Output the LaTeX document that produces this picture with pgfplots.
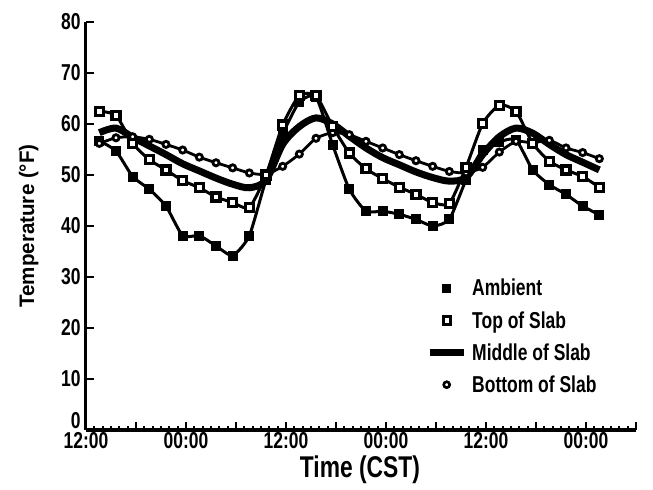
\documentclass[border=0pt]{standalone}
\usepackage{fontspec}
\setmainfont{Liberation Sans}[FakeStretch=0.76]
\newfontfamily\ylabfont{Liberation Sans}[FakeStretch=0.98]
\usepackage{pgfplots}
\usepackage{pgfplotstable}
\pgfplotsset{compat=1.18}
\pgfplotsset{
  markleg/.style={legend image code/.code={\draw[##1] plot coordinates {(17bp,0bp)};}},
  lineleg/.style={legend image code/.code={\draw[##1] (0bp,0bp) -- (34bp,0bp);}},
}

\pgfplotstableread{
x    amb   top   mid   bot
1.6  56.7  62.5  58.3  56.2
3.6  54.7  61.7  59.2  57.3
5.6  49.7  56.2  57.4  57.5
7.6  47.2  53.0  55.7  57.0
9.6  43.9  51.0  54.0  56.0
11.6 38.1  48.9  52.2  54.9
13.6 38.1  47.5  50.8  53.5
15.6 36.1  45.7  49.4  52.4
17.6 34.2  44.6  48.2  51.4
19.6 38.1  43.6  47.5  50.4
21.6 49.1  50.0  49.0  50.1
23.6 58.0  59.8  56.0  51.7
25.6 64.3  65.6  59.5  54.1
27.6 65.3  65.6  61.2  57.2
29.6 55.9  59.5  60.0  58.3
31.6 47.2  54.3  57.6  57.9
33.6 42.9  51.2  55.3  56.6
35.6 42.9  49.3  53.4  55.3
37.6 42.3  47.6  52.0  54.0
39.6 41.3  46.2  50.6  52.8
41.6 40.0  44.6  49.5  51.7
43.6 41.3  44.4  48.8  50.7
45.6 49.0  51.5  49.5  50.4
47.6 55.0  60.1  54.0  51.5
49.6 56.5  63.7  57.5  54.5
51.6 56.9  62.5  59.2  56.6
53.6 51.0  56.2  58.2  56.3
55.6 48.1  52.7  56.0  56.8
57.6 46.2  51.0  54.0  55.3
59.6 43.9  49.7  52.5  54.4
61.6 42.2  47.6  51.0  53.2
}\datatable

\begin{document}
\begin{tikzpicture}
\path[use as bounding box] (-86bp,-60bp) rectangle (567bp,430bp);
\begin{axis}[
  at={(0,0)}, anchor=south west,
  scale only axis, width=550bp, height=408bp,
  xmin=0, xmax=66, ymin=0, ymax=80,
  axis lines=left,
  axis line style={-, line width=3bp, black},
  tick align=inside,
  xtick={0,6,...,66},
  xticklabels={12:00,,00:00,,12:00,,00:00,,12:00,,00:00,},
  minor x tick num=5,
  ytick={10,20,...,80},
  extra y ticks={0},
  extra y tick style={yticklabel style={yshift=9bp, inner ysep=0pt}},
  major tick length=8bp, minor tick length=4bp,
  every tick/.style={line width=2.2bp, black},
  /pgf/number format/assume math mode=true,
  tick label style={font=\bfseries\fontsize{23bp}{25bp}\selectfont},
  yticklabel style={xshift=-2bp},
  xticklabel style={yshift=1bp},
  xlabel={Time (CST)},
  ylabel={Temperature (°F)},
  xlabel style={font=\bfseries\fontsize{30bp}{32bp}\selectfont, at={(axis description cs:0.498,-0.098)}, anchor=center},
  ylabel style={font=\ylabfont\bfseries\fontsize{21bp}{23bp}\selectfont, at={(axis description cs:-0.104,0.5)}, anchor=center},
  clip=false,
  legend style={draw=none, fill=none, at={(axis cs:40.8,30.0)}, anchor=north west,
    font=\bfseries\fontsize{23bp}{25bp}\selectfont, row sep=10bp, inner sep=0pt,
    nodes={inner xsep=5bp}},
  legend cell align=left,
]
\addplot[black, line width=7bp, smooth, forget plot] table[x=x, y=mid] {\datatable};
\addplot[black, line width=3bp, smooth, tension=0.35, mark=square*, mark size=4.5bp,
  mark options={fill=black, line width=1bp, solid}, forget plot] table[x=x, y=amb] {\datatable};
\addplot[black, line width=2.8bp, smooth, tension=0.35, mark=*, mark size=3.1bp,
  mark options={fill=white, line width=2.8bp, solid}, forget plot] table[x=x, y=bot] {\datatable};
\addplot[black, line width=3bp, smooth, tension=0.35, mark=square*, mark size=4bp,
  mark options={fill=white, line width=3.2bp, solid}, forget plot] table[x=x, y=top] {\datatable};

\addlegendimage{black, only marks, mark=square*, mark size=4bp, mark options={fill=black, line width=1bp}, markleg}
\addlegendentry{Ambient}
\addlegendimage{black, only marks, mark=square*, mark size=3.6bp, mark options={fill=white, line width=3bp}, markleg}
\addlegendentry{Top of Slab}
\addlegendimage{black, line width=7bp, lineleg}
\addlegendentry{Middle of Slab}
\addlegendimage{black, only marks, mark=*, mark size=3bp, mark options={fill=white, line width=2.6bp}, markleg}
\addlegendentry{Bottom of Slab}
\end{axis}
\end{tikzpicture}
\end{document}
